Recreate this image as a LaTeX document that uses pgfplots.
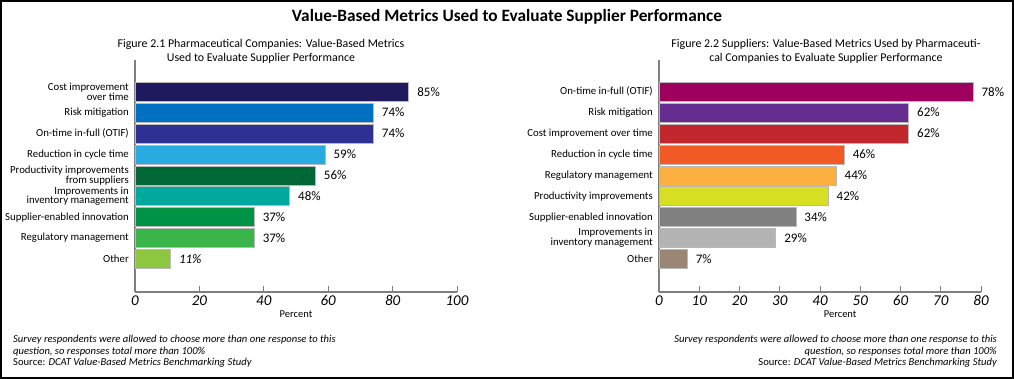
\documentclass[border=0pt]{standalone}
\usepackage{fontspec}
\setmainfont{Carlito}
\usepackage{pgfplots}
\pgfplotsset{compat=1.18}
\definecolor{a1}{HTML}{1F1A5E}
\definecolor{a2}{HTML}{0070C0}
\definecolor{a3}{HTML}{2E3192}
\definecolor{a4}{HTML}{29ABE2}
\definecolor{a5}{HTML}{006837}
\definecolor{a6}{HTML}{00A99D}
\definecolor{a7}{HTML}{009245}
\definecolor{a8}{HTML}{39B54A}
\definecolor{a9}{HTML}{8DC63F}
\definecolor{b1}{HTML}{9E005D}
\definecolor{b2}{HTML}{662D91}
\definecolor{b3}{HTML}{C1272D}
\definecolor{b4}{HTML}{F15A24}
\definecolor{b5}{HTML}{FBB040}
\definecolor{b6}{HTML}{D7DF23}
\definecolor{b7}{HTML}{808080}
\definecolor{b8}{HTML}{B3B3B3}
\definecolor{b9}{HTML}{998675}
\definecolor{axgray}{HTML}{7F7F7F}
\pgfplotsset{
  panel/.style={
    scale only axis, width=322pt, height=232pt, anchor=south west,
    xbar, bar width=19pt,
    axis x line*=bottom, axis y line*=left,
    axis line style={-, draw=axgray, line width=1.5pt},
    ymin=-1.578, ymax=9.516, xmin=0,
    ytick={0,...,8},
    ytick style={draw=none},
    xtick style={draw=axgray, line width=1pt},
    tick align=inside, major tick length=6pt,
    yticklabel style={align=right, inner sep=0pt, xshift=-6pt, font=\fontsize{10.8}{9.8}\selectfont},
    xticklabel style={font=\itshape\fontsize{15}{15}\selectfont},
    /pgf/number format/assume math mode=true,
    point meta=x,
    nodes near coords={\pgfmathprintnumber{\pgfplotspointmeta}\%},
    nodes near coords align=horizontal,
    every node near coord/.append style={font=\fontsize{13}{13}\selectfont, xshift=5pt, text=black},
    every axis plot/.append style={bar shift=0pt, draw=gray!55, line width=0.6pt},
    clip=false,
    xlabel={Percent},
    xlabel style={font=\fontsize{10.5}{12}\selectfont, anchor=center},
  }
}
\begin{document}
\begin{tikzpicture}[x=1pt,y=1pt]
\useasboundingbox (0,0) rectangle (1014,-379);
\draw[line width=2pt] (1,-1) rectangle (1013,-378);
\node[font=\bfseries\fontsize{17.3}{19}\selectfont] at (507,-17) {Value-Based Metrics Used to Evaluate Supplier Performance};
\node[font=\fontsize{11.9}{14}\selectfont, align=center] at (261,-51) {Figure 2.1 Pharmaceutical Companies: Value-Based Metrics\\Used to Evaluate Supplier Performance};
\node[font=\fontsize{11.9}{14}\selectfont, align=center] at (826,-51) {Figure 2.2 Suppliers: Value-Based Metrics Used by Pharmaceuti-\\cal Companies to Evaluate Supplier Performance};

\begin{axis}[panel, at={(135pt,-292pt)}, xmax=100, xtick={0,20,...,100},
  xlabel style={at={(axis description cs:0.5,0)}, yshift=-22pt},
  yticklabels={Other, Regulatory management, Supplier-enabled innovation, {Improvements in\\inventory management}, {Productivity improvements\\from suppliers}, Reduction in cycle time, On-time in-full (OTIF), Risk mitigation, {Cost improvement\\over time}}]
\addplot[fill=a1] coordinates {(85,8)};
\addplot[fill=a2] coordinates {(74,7)};
\addplot[fill=a3] coordinates {(74,6)};
\addplot[fill=a4] coordinates {(59,5)};
\addplot[fill=a5] coordinates {(56,4)};
\addplot[fill=a6] coordinates {(48,3)};
\addplot[fill=a7] coordinates {(37,2)};
\addplot[fill=a8] coordinates {(37,1)};
\addplot[fill=a9, every node near coord/.append style={font=\itshape\fontsize{13}{13}\selectfont}] coordinates {(11,0)};
\end{axis}

\begin{axis}[panel, at={(659pt,-292pt)}, xmax=80, xtick={0,10,...,80},
  xlabel style={at={(axis description cs:0.5625,0)}, yshift=-22pt},
  yticklabels={Other, {Improvements in\\inventory management}, Supplier-enabled innovation, Productivity improvements, Regulatory management, Reduction in cycle time, Cost improvement over time, Risk mitigation, On-time in-full (OTIF)}]
\addplot[fill=b1] coordinates {(78,8)};
\addplot[fill=b2] coordinates {(62,7)};
\addplot[fill=b3] coordinates {(62,6)};
\addplot[fill=b4] coordinates {(46,5)};
\addplot[fill=b5] coordinates {(44,4)};
\addplot[fill=b6] coordinates {(42,3)};
\addplot[fill=b7] coordinates {(34,2)};
\addplot[fill=b8] coordinates {(29,1)};
\addplot[fill=b9] coordinates {(7,0)};
\end{axis}

\begin{scope}[font=\fontsize{10.6}{12}\selectfont]
\node[anchor=west, inner sep=0pt] at (13,-340) {\itshape Survey respondents were allowed to choose more than one response to this};
\node[anchor=west, inner sep=0pt] at (13,-351.5) {\itshape question, so responses total more than 100\%};
\node[anchor=west, inner sep=0pt] at (13,-363) {Source: \itshape DCAT Value-Based Metrics Benchmarking Study};
\node[anchor=east, inner sep=0pt] at (997,-340) {\itshape Survey respondents were allowed to choose more than one response to this};
\node[anchor=east, inner sep=0pt] at (997,-351.5) {\itshape question, so responses total more than 100\%};
\node[anchor=east, inner sep=0pt] at (997,-363) {Source: \itshape DCAT Value-Based Metrics Benchmarking Study};
\end{scope}
\end{tikzpicture}
\end{document}
